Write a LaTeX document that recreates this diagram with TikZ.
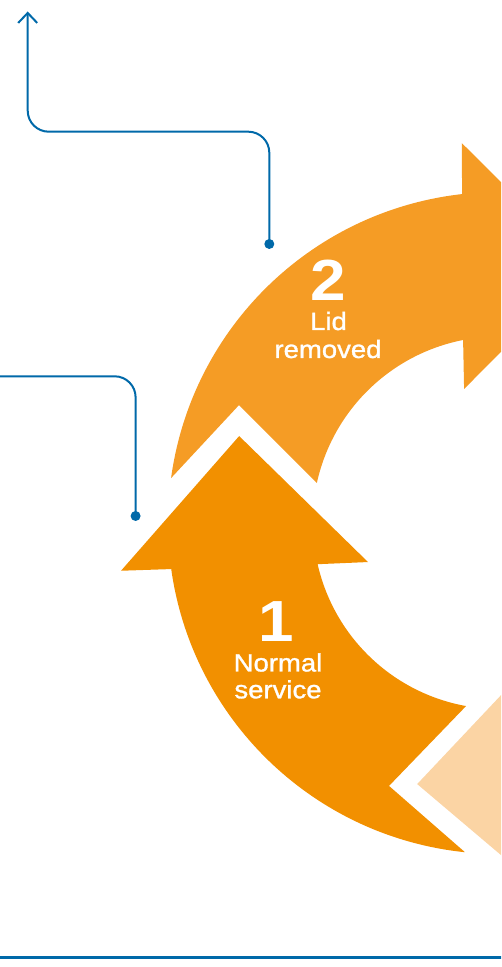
\documentclass[tikz,border=0pt]{standalone}
\usepackage{fontspec}
\setmainfont{Liberation Sans}
\newfontfamily\labfont[FakeStretch=1.1,FakeBold=1.2]{Liberation Sans}
\newfontfamily\digfont[FakeStretch=1.1]{Liberation Sans}
\usetikzlibrary{arrows.meta}
\definecolor{orangeA}{HTML}{F29000}
\definecolor{orangeB}{HTML}{F59C25}
\definecolor{peach}{HTML}{FBD4A4}
\definecolor{lineblue}{HTML}{0069A9}
\tikzset{
  numtext/.style={text=white, inner sep=0pt, anchor=base, font=\digfont\fontsize{58}{58}\selectfont\bfseries},
  labtext/.style={text=white, inner sep=0pt, anchor=base, font=\labfont\fontsize{25}{25}\selectfont},
  callout/.style={draw=lineblue, line width=2pt, rounded corners=21pt},
  calldot/.style={fill=lineblue},
}
\begin{document}
\begin{tikzpicture}[x=1pt,y=1pt]
\useasboundingbox (0,0) rectangle (501,967);
\clip (0,0) rectangle (501,967);
\begin{scope}[shift={(499pt,444pt)}]
  % arrow 1: normal service
  \fill[orangeA] (264.1:331pt) arc[start angle=264.1, end angle=188.0, radius=331pt]
    -- (187.2:381pt) -- (161.5:274pt) -- (196.6:136.7pt) -- (192.8:186pt)
    arc[start angle=192.8, end angle=259.8, radius=186pt]
    -- (247.3:285pt) -- cycle;
  % arrow 2: lid removed
  \fill[orangeB] (172.2:331pt) arc[start angle=172.2, end angle=96.4, radius=331pt]
    -- (95.6:381.8pt) -- (71.3:271pt) -- (104.6:138.5pt) -- (101.1:186.5pt)
    arc[start angle=101.1, end angle=167.6, radius=186.5pt]
    -- (155.6:285.5pt) -- cycle;
  % head of the last arrow (peach)
  \fill[peach] (252.6:273.6pt) -- (278.3:381pt) -- (287.7:136.7pt) -- cycle;
\end{scope}
% texts
\node[numtext] (n1) at (276,325.5) {1};
\node[labtext] (l1a) at (278,295.5) {Normal};
\node[labtext] (l1b) at (278,268.7) {service};
\node[numtext] (n2) at (328.5,666.5) {2};
\node[labtext] (l2a) at (328.5,637) {Lid};
\node[labtext] (l2b) at (328,609) {removed};
% callout lines
\coordinate (d1) at (269.3,723);
\coordinate (e1) at (27.7,955.5);
\coordinate (h1) at (0,835.3);
\draw[callout, -{Straight Barb[length=10pt,width=19pt]}] (d1) -- (d1 |- h1) -- (e1 |- h1) -- (e1);
\fill[calldot] (d1) circle (5pt);
\coordinate (d2) at (135.6,451);
\coordinate (s2) at (-5,590.7);
\draw[callout] (s2) -- (d2 |- s2) -- (d2);
\fill[calldot] (d2) circle (5pt);
\coordinate (b1) at (-5,9.3);
\coordinate (b2) at (506,9.3);
\draw[draw=lineblue, line width=2.5pt] (b1) -- (b2);
\end{tikzpicture}
\end{document}
